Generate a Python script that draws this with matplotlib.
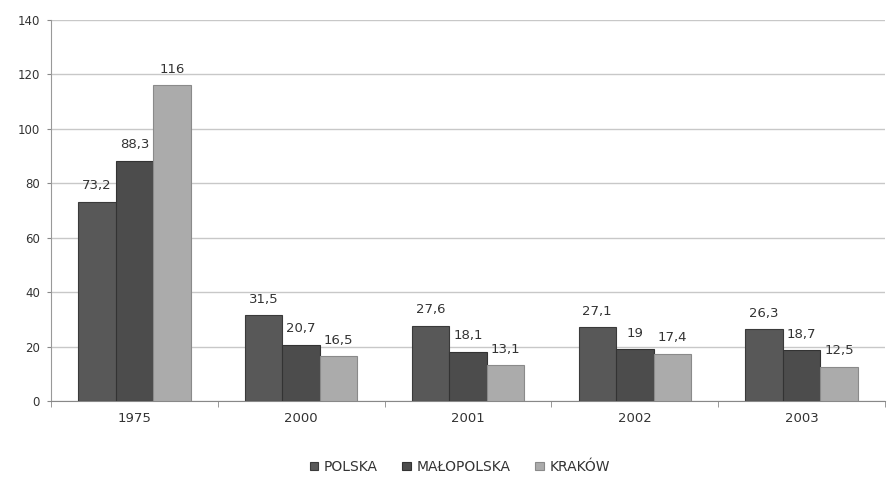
import matplotlib
matplotlib.use("Agg")
import matplotlib.pyplot as plt
import numpy as np

categories = ["1975", "2000", "2001", "2002", "2003"]
series_names = ["POLSKA", "MAŁOPOLSKA", "KRAKÓW"]
polska = [73.2, 31.5, 27.6, 27.1, 26.3]
malopolska = [88.3, 20.7, 18.1, 19, 18.7]
krakow = [116, 16.5, 13.1, 17.4, 12.5]
labels_polska = ["73,2", "31,5", "27,6", "27,1", "26,3"]
labels_malopolska = ["88,3", "20,7", "18,1", "19", "18,7"]
labels_krakow = ["116", "16,5", "13,1", "17,4", "12,5"]
yticks = [0, 20, 40, 60, 80, 100, 120, 140]

colors = ["#585858", "#4c4c4c", "#ababab"]
edges = ["#3a3a3a", "#333333", "#8a8a8a"]

fig = plt.figure(figsize=(8.88, 4.78), dpi=100)
ax = fig.add_axes([51/888, 77/478, 834/888, 381/478])

x = np.arange(len(categories))
w = 0.225
data = [polska, malopolska, krakow]
labs = [labels_polska, labels_malopolska, labels_krakow]
for i, (vals, lab) in enumerate(zip(data, labs)):
    pos = x + (i - 1) * w
    bars = ax.bar(pos, vals, width=w, color=colors[i], edgecolor=edges[i],
                  linewidth=0.8, label=series_names[i], zorder=3)
    for b, t in zip(bars, lab):
        ax.text(b.get_x() + b.get_width() / 2, b.get_height() + 3.5, t,
                ha="center", va="bottom", fontsize=9.5, color="#333333", zorder=4)

ax.set_xlim(-0.5, len(categories) - 0.5)
ax.set_ylim(0, 140)
ax.set_yticks(yticks)
ax.set_yticklabels([str(v) for v in yticks], fontsize=8.5, color="#333333")
ax.set_xticks(x)
ax.set_xticklabels(categories, fontsize=9.5, color="#333333")
ax.tick_params(axis="x", length=0, pad=8)
ax.tick_params(axis="y", length=3, pad=5, color="#888888")
ax.set_xticks(np.arange(-0.5, len(categories), 1), minor=True)
ax.tick_params(axis="x", which="minor", length=4, color="#888888")
ax.grid(axis="y", color="#c8c8c8", linewidth=1, zorder=0)
for s in ["top", "right"]:
    ax.spines[s].set_visible(False)
ax.spines["left"].set_color("#999999")
ax.spines["bottom"].set_color("#888888")

ax.legend(loc="upper center", bbox_to_anchor=(0.49, -0.122), ncol=3, frameon=False,
          fontsize=10, handlelength=0.6, handleheight=0.6, handletextpad=0.4,
          columnspacing=1.8, labelcolor="#333333")

fig.savefig("out.png", dpi=100)
